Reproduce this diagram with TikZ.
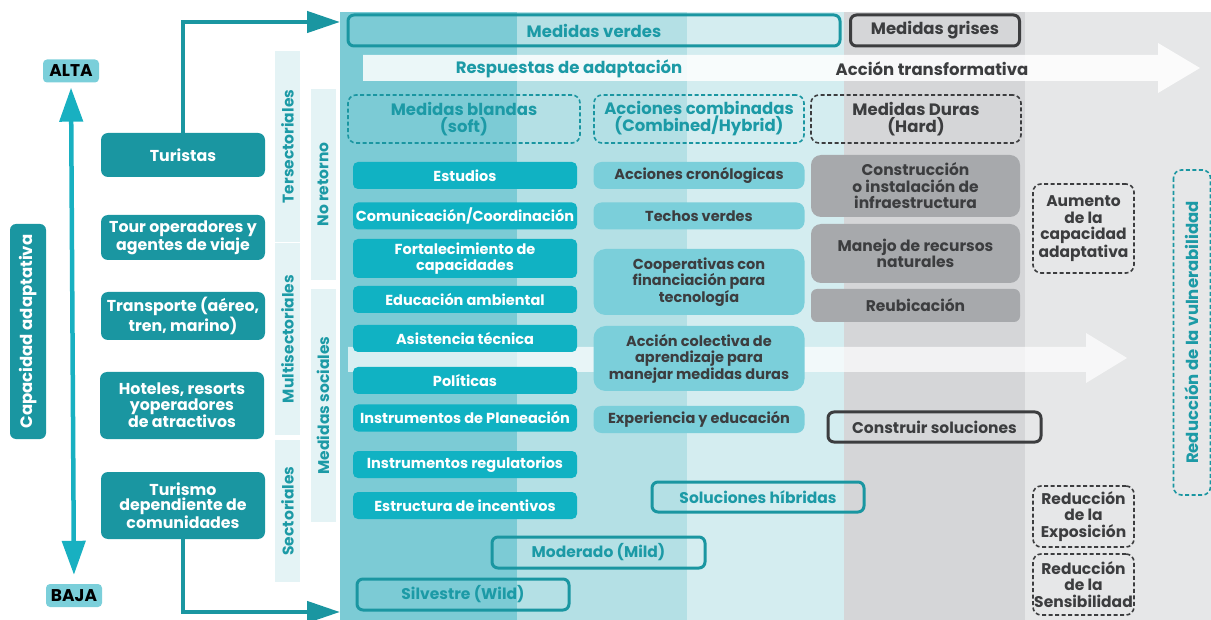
\documentclass[tikz,border=0pt]{standalone}
\usepackage{fontspec}
\setmainfont{Poppins}
\usetikzlibrary{arrows.meta}
\definecolor{tealdark}{HTML}{1A96A1}
\definecolor{tealtext}{HTML}{1C9AA6}
\definecolor{tealbright}{HTML}{10B2C3}
\definecolor{teallight}{HTML}{7BCFDA}
\definecolor{arrowteal}{HTML}{18B0C1}
\definecolor{colA}{HTML}{7CCBD5}
\definecolor{colB}{HTML}{B4E0E5}
\definecolor{colC}{HTML}{D4EDF0}
\definecolor{colD}{HTML}{D5D6D8}
\definecolor{colE}{HTML}{E6E7E8}
\definecolor{grisbox}{HTML}{A7A9AC}
\definecolor{grisdark}{HTML}{3C3D3F}
\definecolor{stripfill}{HTML}{E4F3F5}
\tikzstyle{boxfont} = [font=\bfseries\fontsize{14.5}{16.5}\selectfont]
\tikzstyle{bigfont} = [font=\bfseries\fontsize{15.5}{16.5}\selectfont]
\tikzstyle{headfont} = [font=\bfseries\fontsize{16.5}{17}\selectfont]
\tikzstyle{sectorbox} = [font=\bfseries\fontsize{15.8}{15.5}\selectfont, fill=tealdark, text=white, rounded corners=7pt, align=center, minimum width=164pt, inner sep=1pt]
\tikzstyle{softbox} = [boxfont, fill=tealbright, text=white, rounded corners=5pt, align=center, minimum width=224pt, minimum height=27pt, inner sep=1pt]
\tikzstyle{hybridbox} = [boxfont, fill=teallight, text=grisdark, rounded corners=8pt, align=center, minimum width=211pt, minimum height=27pt, inner sep=1pt]
\tikzstyle{hardbox} = [bigfont, fill=grisbox, text=grisdark, rounded corners=10pt, align=center, minimum width=209pt, inner sep=1pt]
\tikzstyle{stripnode} = [bigfont, fill=stripfill, text=tealtext, rotate=90, minimum height=25pt, inner sep=1pt]
\tikzstyle{headbox} = [headfont, draw, dash pattern=on 4pt off 2.5pt, line width=1.6pt, rounded corners=8pt, align=center, minimum width=210pt, minimum height=48pt, inner sep=1pt]
\tikzstyle{resultbox} = [bigfont, draw=grisdark, text=grisdark, dash pattern=on 4pt off 2.5pt, line width=1.6pt, rounded corners=8pt, align=center, minimum width=101pt, inner sep=1pt]
\tikzstyle{framebox} = [bigfont, draw, line width=3pt, rounded corners=6pt, minimum width=212pt, minimum height=30pt]
\tikzstyle{levelbox} = [font=\bfseries\fontsize{17}{18}\selectfont, fill=teallight, text=black, rounded corners=4pt, minimum width=56pt, minimum height=23pt, inner sep=1pt]
\tikzstyle{flowarrow} = [tealdark, line width=4.5pt, -{Triangle[width=21pt,length=33pt]}]

\begin{document}
\begin{tikzpicture}[x=1pt,y=-1pt]
\useasboundingbox (0,0) rectangle (1211,620);
% columnas de fondo
\fill[colA] (340,12) rectangle (517,620);
\fill[colB] (517,12) rectangle (687,620);
\fill[colC] (687,12) rectangle (844,620);
\fill[colD] (844,12) rectangle (1025,620);
\fill[colE] (1025,12) rectangle (1211,620);

% flechas anchas
\fill[white, opacity=0.85] (363,55) -- (1158,55) -- (1158,43) -- (1200,68) -- (1158,93) -- (1158,81) -- (363,81) -- cycle;
\fill[white, opacity=0.7] (348,347) -- (1086,347) -- (1086,333) -- (1127,358) -- (1086,383) -- (1086,372) -- (348,372) -- cycle;
\node[headfont, text=tealtext] (respuestas) at (569,69) {Respuestas de adaptación};
\node[headfont, text=grisdark] (transformativa) at (932,69) {Acción transformativa};

% eje de capacidad
\node[font=\bfseries\fontsize{16.5}{17}\selectfont, fill=tealdark, text=white, rotate=90, rounded corners=6pt, minimum width=215pt, minimum height=36pt] (capacidad) at (28,331.5) {Capacidad adaptativa};
\node[levelbox] (alta) at (71,71) {ALTA};
\node[levelbox] (baja) at (74,595.5) {BAJA};
\draw[arrowteal, line width=4.5pt, {Triangle[width=23pt,length=34pt]}-{Triangle[width=23pt,length=34pt]}, shorten <=5pt, shorten >=9pt] (alta.south) -- (baja.north);

% actores
\node[sectorbox, minimum height=44pt] (turistas) at (183,155) {Turistas};
\node[sectorbox, minimum height=45pt] (tour) at (183,237.5) {Tour operadores y\\agentes de viaje};
\node[sectorbox, minimum height=48pt] (transporte) at (183,316) {Transporte (aéreo,\\tren, marino)};
\node[sectorbox, minimum height=67pt] (hoteles) at (182,405.5) {Hoteles, resorts\\yoperadores\\de atractivos};
\node[sectorbox, minimum height=67pt] (turismo) at (183,505.5) {Turismo\\dependiente de\\comunidades};
\coordinate (verdesin) at (340,22);
\coordinate (silvestrein) at (340,612);
\draw[flowarrow] (turistas.north) |- (verdesin);
\draw[flowarrow] (turismo.south) |- (silvestrein);

% franjas verticales
\node[stripnode, minimum width=191pt] (tersect) at (287.5,146.5) {Tersectoriales};
\node[stripnode, minimum width=192pt] (multisect) at (287.5,339) {Multisectoriales};
\node[stripnode, minimum width=142pt] (sect) at (287.5,511) {Sectoriales};
\node[stripnode, minimum width=191pt] (noretorno) at (323,184.5) {No retorno};
\node[stripnode, minimum width=233pt] (sociales) at (323,405.5) {Medidas sociales};

% encabezados
\node[framebox, headfont, draw=tealdark, text=tealtext, minimum width=492pt, minimum height=31pt] (verdes) at (594,30.5) {Medidas verdes};
\node[framebox, headfont, draw=grisdark, text=grisdark, minimum width=169pt, minimum height=31pt] (grises) at (935,30.5) {Medidas grises};
\node[headbox, draw=tealdark, text=tealtext, minimum width=232pt] (blandas) at (464,119) {Medidas blandas\\(soft)};
\node[headbox, draw=tealdark, text=tealtext] (combinadas) at (699,119) {Acciones combinadas\\(Combined/Hybrid)};
\node[headbox, draw=grisdark, text=grisdark] (duras) at (916,119) {Medidas Duras\\(Hard)};

% medidas blandas
\node[softbox] (estudios) at (465,175.5) {Estudios};
\node[softbox] (comunicacion) at (465,216) {Comunicación/Coordinación};
\node[softbox, minimum height=39pt] (fortalecimiento) at (465,258.5) {Fortalecimiento de\\capacidades};
\node[softbox] (educacion) at (465,299.5) {Educación ambiental};
\node[softbox] (asistencia) at (465,338.5) {Asistencia técnica};
\node[softbox] (politicas) at (465,380.5) {Políticas};
\node[softbox] (planeacion) at (465,418) {Instrumentos de Planeación};
\node[softbox] (regulatorios) at (465,464.5) {Instrumentos regulatorios};
\node[softbox] (incentivos) at (465,505.5) {Estructura de incentivos};

% acciones combinadas
\node[hybridbox] (cronologicas) at (699,175.5) {Acciones cronólogicas};
\node[hybridbox] (techos) at (699,216) {Techos verdes};
\node[hybridbox, minimum height=66pt, rounded corners=12pt] (cooperativas) at (699,282) {Cooperativas con\\financiación para\\tecnología};
\node[hybridbox, minimum height=65pt, rounded corners=12pt] (colectiva) at (699,358.5) {Acción colectiva de\\aprendizaje para\\manejar medidas duras};
\node[hybridbox] (experiencia) at (699,419.5) {Experiencia y educación};

% medidas duras
\node[hardbox, minimum height=62pt] (construccion) at (915.5,186) {Construcción\\o instalación de\\infraestructura};
\node[hardbox, minimum height=59pt] (manejo) at (915.5,253.5) {Manejo de recursos\\naturales};
\node[hardbox, minimum height=33pt, rounded corners=6pt] (reubicacion) at (915.5,305.5) {Reubicación};

% soluciones
\node[framebox, draw=grisdark, text=grisdark, minimum width=213pt] (construir) at (934.5,427) {Construir soluciones};
\node[framebox, draw=tealdark, text=tealtext] (hibridas) at (758,497) {Soluciones híbridas};
\node[framebox, draw=tealdark, text=tealtext, minimum width=213pt, minimum height=31pt] (moderado) at (598.5,552.5) {Moderado (Mild)};
\node[framebox, draw=tealdark, text=tealtext, minimum height=31pt] (silvestre) at (463,594.5) {Silvestre (Wild)};

% resultados
\node[resultbox, minimum height=89pt] (aumento) at (1083.5,228.5) {Aumento\\de la\\capacidad\\adaptativa};
\node[resultbox, minimum height=61pt] (exposicion) at (1083.5,516.5) {Reducción\\de la\\Exposición};
\node[resultbox, minimum height=61pt] (sensibilidad) at (1083.5,584.5) {Reducción\\de la\\Sensibilidad};
\node[resultbox, draw=tealdark, text=tealtext, rotate=90, minimum width=325pt, minimum height=37pt, font=\bfseries\fontsize{16.5}{17}\selectfont] (vulnerabilidad) at (1192,332.5) {Reducción de la vulnerabilidad};
\end{tikzpicture}
\end{document}
